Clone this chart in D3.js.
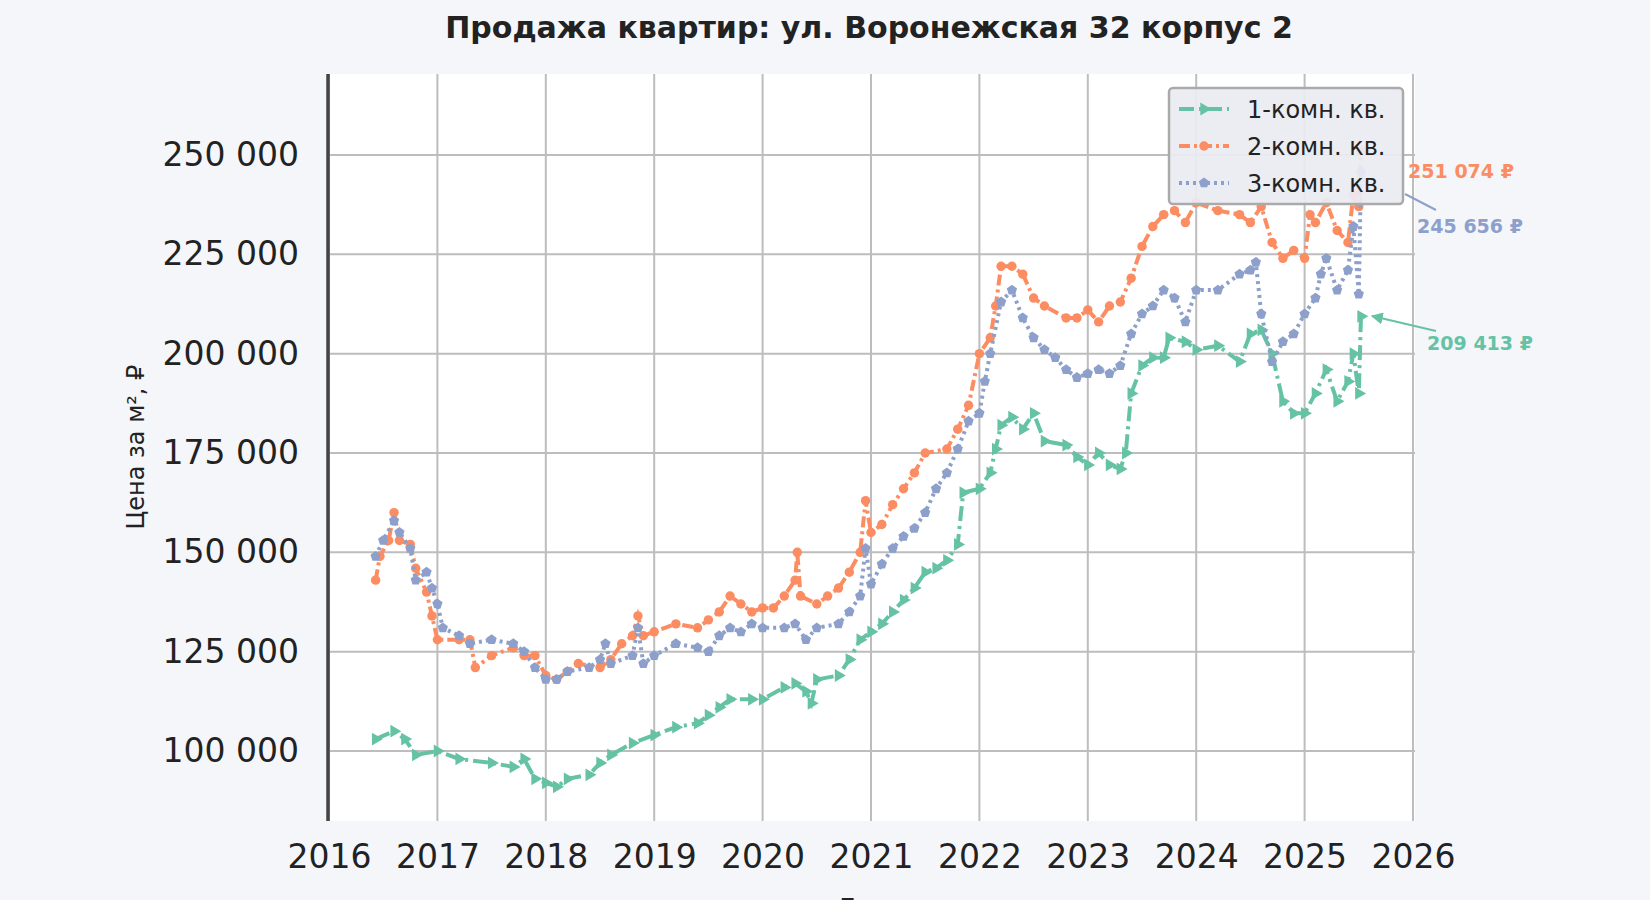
<!DOCTYPE html><html><head><meta charset="utf-8"><script src="https://d3js.org/d3.v7.min.js"></script>
<style>body{margin:0;background:#f4f6fa;font-family:"DejaVu Sans",sans-serif}</style></head><body><svg id="c" width="1650" height="900"></svg>
<script>
const seriesNames=["1-комн. кв.","2-комн. кв.","3-комн. кв."];
const colors=["#66c2a5","#fc8d62","#8da0cb"];
const xTicks=[2016,2017,2018,2019,2020,2021,2022,2023,2024,2025,2026];
const yTicks=[100000,125000,150000,175000,200000,225000,250000];
const datesA=[2016.43,2016.6,2016.7,2016.8,2017.0,2017.2,2017.5,2017.7,2017.8,2017.9,2018.0,2018.1,2018.2,2018.4,2018.5,2018.6,2018.8,2019.0,2019.2,2019.4,2019.5,2019.6,2019.7,2019.9,2020.0,2020.2,2020.3,2020.4,2020.45,2020.5,2020.7,2020.8,2020.9,2021.0,2021.1,2021.2,2021.3,2021.4,2021.5,2021.6,2021.7,2021.8,2021.85,2022.0,2022.1,2022.15,2022.2,2022.3,2022.4,2022.5,2022.6,2022.8,2022.9,2023.0,2023.1,2023.2,2023.3,2023.35,2023.4,2023.5,2023.6,2023.7,2023.75,2023.9,2024.0,2024.2,2024.4,2024.5,2024.6,2024.7,2024.8,2024.9,2025.0,2025.1,2025.2,2025.3,2025.4,2025.45,2025.5,2025.52];
const valsA=[103,105,103,99,100,98,97,96,98,93,92,91,93,94,97,99,102,104,106,107,109,111,113,113,113,116,117,115,112,118,119,123,128,130,132,135,138,141,145,146,148,152,165,166,170,176,182,184,181,185,178,177,174,172,175,172,171,175,190,197,199,199,204,203,201,202,198,205,206,200,188,185,185,190,196,188,193,200,190,209.413];
const datesB=[2016.43,2016.47,2016.55,2016.6,2016.65,2016.75,2016.8,2016.9,2016.95,2017.0,2017.2,2017.3,2017.35,2017.5,2017.7,2017.8,2017.9,2018.0,2018.1,2018.2,2018.3,2018.5,2018.6,2018.7,2018.8,2018.85,2018.9,2019.0,2019.2,2019.4,2019.5,2019.6,2019.7,2019.8,2019.9,2020.0,2020.1,2020.2,2020.3,2020.32,2020.35,2020.5,2020.6,2020.7,2020.8,2020.9,2020.95,2021.0,2021.1,2021.2,2021.3,2021.4,2021.5,2021.7,2021.8,2021.9,2022.0,2022.1,2022.15,2022.2,2022.3,2022.4,2022.5,2022.6,2022.8,2022.9,2023.0,2023.1,2023.2,2023.3,2023.4,2023.5,2023.6,2023.7,2023.8,2023.9,2024.0,2024.2,2024.4,2024.5,2024.6,2024.7,2024.8,2024.9,2025.0,2025.05,2025.1,2025.2,2025.3,2025.4,2025.45,2025.5,2025.52];
const valsB=[143,149,153,160,153,152,146,140,134,128,128,128,121,124,126,124,124,119,118,120,122,121,123,127,129,134,129,130,132,131,133,135,139,137,135,136,136,139,143,150,139,137,139,141,145,150,163,155,157,162,166,170,175,176,181,187,200,204,212,222,222,220,214,212,209,209,211,208,212,213,219,227,232,235,236,233,238,236,235,233,237,228,224,226,224,235,233,238,231,228,240,237,251.074];
const datesC=[2016.43,2016.5,2016.6,2016.65,2016.75,2016.8,2016.9,2016.95,2017.0,2017.05,2017.2,2017.3,2017.5,2017.7,2017.8,2017.9,2018.0,2018.1,2018.2,2018.4,2018.5,2018.55,2018.6,2018.8,2018.85,2018.9,2019.0,2019.2,2019.4,2019.5,2019.6,2019.7,2019.8,2019.9,2020.0,2020.2,2020.3,2020.4,2020.5,2020.7,2020.8,2020.9,2020.95,2021.0,2021.1,2021.2,2021.3,2021.4,2021.5,2021.6,2021.7,2021.8,2021.9,2022.0,2022.05,2022.1,2022.2,2022.3,2022.4,2022.5,2022.6,2022.7,2022.8,2022.9,2023.0,2023.1,2023.2,2023.3,2023.4,2023.5,2023.6,2023.7,2023.8,2023.9,2024.0,2024.2,2024.4,2024.5,2024.55,2024.6,2024.7,2024.8,2024.9,2025.0,2025.1,2025.15,2025.2,2025.3,2025.4,2025.45,2025.5,2025.52];
const valsC=[149,153,158,155,151,143,145,141,137,131,129,127,128,127,125,121,118,118,120,121,123,127,122,124,131,122,124,127,126,125,129,131,130,132,131,131,132,128,131,132,135,139,151,142,147,151,154,156,160,166,170,176,183,185,193,200,213,216,209,204,201,199,196,194,195,196,195,197,205,210,212,216,214,208,216,216,220,221,223,210,198,203,205,210,214,220,224,216,221,232,215,245.656];

const svg=d3.select("#c");
const L=328,R=1415,T=74,B=821;
svg.append("rect").attr("x",L).attr("y",T).attr("width",R-L).attr("height",B-T).attr("fill","#fff");
const x=d3.scaleLinear().domain([2016,2026]).range([329,1413]);
const y=d3.scaleLinear().domain([100000,250000]).range([751,155]);
const g=svg.append("g");
xTicks.forEach(t=>g.append("line").attr("x1",x(t)).attr("x2",x(t)).attr("y1",T).attr("y2",B).attr("stroke","#bdbdbd").attr("stroke-width",2));
yTicks.forEach(t=>g.append("line").attr("x1",L).attr("x2",R).attr("y1",y(t)).attr("y2",y(t)).attr("stroke","#bdbdbd").attr("stroke-width",2));
svg.append("line").attr("x1",L).attr("x2",L).attr("y1",T).attr("y2",B).attr("stroke","#444").attr("stroke-width",3.5);
const fmt=v=>d3.format(",")(v).replace(/,/g," ");
const xa=svg.append("g").attr("transform",`translate(0,${B})`).call(d3.axisBottom(x).tickValues(xTicks).tickFormat(d3.format("d")).tickSize(0).tickPadding(24));
const ya=svg.append("g").attr("transform",`translate(${L},0)`).call(d3.axisLeft(y).tickValues(yTicks).tickFormat(fmt).tickSize(0).tickPadding(29));
[xa,ya].forEach(a=>{a.select(".domain").remove();a.selectAll("text").attr("font-size",33).attr("fill","#222").attr("font-family","DejaVu Sans");});
const pent={draw(ctx,size){const r=Math.sqrt(size/2.4);for(let i=0;i<5;i++){const a=-Math.PI/2+i*2*Math.PI/5;i?ctx.lineTo(r*Math.cos(a),r*Math.sin(a)):ctx.moveTo(r*Math.cos(a),r*Math.sin(a));}ctx.closePath();}};
const tri={draw(ctx,size){const r=Math.sqrt(size/1.3);ctx.moveTo(r,0);ctx.lineTo(-r*0.5,r*0.87);ctx.lineTo(-r*0.5,-r*0.87);ctx.closePath();}};
const syms=[tri,d3.symbolCircle,pent];
const dashes=["15,5,3,5","11,4,3,4","3,4"];
const series=[[datesA,valsA],[datesB,valsB],[datesC,valsC]];
const line=d3.line().x(d=>x(d[0])).y(d=>y(d[1]*1000));
series.forEach(([ds,vs],i)=>{
 const pts=ds.map((d,j)=>[d,vs[j]]);
 svg.append("path").datum(pts).attr("d",line).attr("fill","none").attr("stroke",colors[i]).attr("stroke-width",4).attr("stroke-dasharray",dashes[i]);
 svg.append("g").selectAll("path").data(pts).join("path").attr("transform",d=>`translate(${x(d[0])},${y(d[1]*1000)})`).attr("d",d3.symbol(syms[i],70)).attr("fill",colors[i]);
});
const lg=svg.append("g").attr("transform","translate(1169,88)");
lg.append("rect").attr("width",234).attr("height",116).attr("rx",4).attr("fill","#ebebf2").attr("fill-opacity",0.93).attr("stroke","#aaa").attr("stroke-width",2.5);
seriesNames.forEach((n,i)=>{const yy=21+i*37;
 lg.append("line").attr("x1",10).attr("x2",60).attr("y1",yy).attr("y2",yy).attr("stroke",colors[i]).attr("stroke-width",4).attr("stroke-dasharray",dashes[i]);
 lg.append("path").attr("transform",`translate(35,${yy})`).attr("d",d3.symbol(syms[i],70)).attr("fill",colors[i]);
 lg.append("text").attr("x",78).attr("y",yy+9).attr("font-size",24).attr("fill","#222").text(n);});
const ann=[{v:valsA.at(-1),c:colors[0],tx:1480,ty:344,arrow:[1436,331,1372,316]},{v:valsB.at(-1),c:colors[1],tx:1461,ty:172,arrow:null},{v:valsC.at(-1),c:colors[2],tx:1470,ty:227,arrow:[1436,210,1405,194]}];
svg.append("defs").append("marker").attr("id","ah").attr("viewBox","0 0 10 10").attr("refX",9).attr("refY",5).attr("markerWidth",6).attr("markerHeight",6).attr("orient","auto").append("path").attr("d","M0,0L10,5L0,10z").attr("fill",colors[0]);
ann.forEach(a=>{
 if(a.arrow){const l=svg.append("line").attr("x1",a.arrow[0]).attr("y1",a.arrow[1]).attr("x2",a.arrow[2]).attr("y2",a.arrow[3]).attr("stroke",a.c).attr("stroke-width",2);if(a.c===colors[0])l.attr("marker-end","url(#ah)");}
 svg.append("text").attr("x",a.tx).attr("y",a.ty).attr("text-anchor","middle").attr("dominant-baseline","middle").attr("font-size",19).attr("font-weight","bold").attr("fill",a.c).text(fmt(Math.round(a.v*1000))+" ₽");
});
svg.append("text").attr("x",869).attr("y",38).attr("text-anchor","middle").attr("font-size",30).attr("font-weight","bold").attr("fill","#222").text("Продажа квартир: ул. Воронежская 32 корпус 2");
svg.append("text").attr("transform","translate(144,447) rotate(-90)").attr("text-anchor","middle").attr("font-size",24).attr("fill","#222").text("Цена за м², ₽");
svg.append("text").attr("x",871).attr("y",918).attr("text-anchor","middle").attr("font-size",27).attr("fill","#222").text("Дата");
</script></body></html>
